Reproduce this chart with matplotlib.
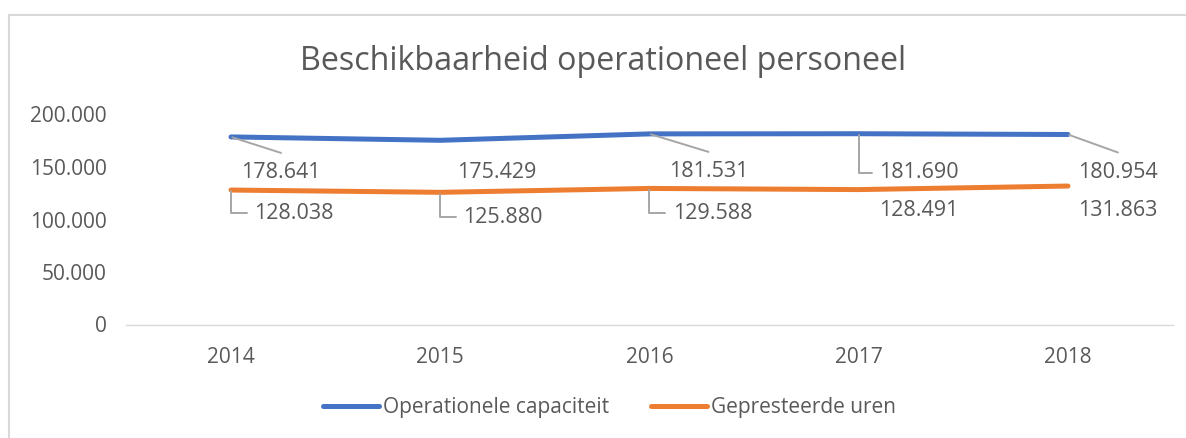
import matplotlib.pyplot as plt
from matplotlib.patches import Rectangle

plt.rcParams['font.family'] = ['Open Sans', 'DejaVu Sans']

# data
years = ['2014', '2015', '2016', '2017', '2018']
capaciteit = [178641, 175429, 181531, 181690, 180954]
gepresteerd = [128038, 125880, 129588, 128491, 131863]
y_ticks = [0, 50000, 100000, 150000, 200000]

# label placement (pixels from the point: right, down) and leader type
cap_offsets = [(50, 36), (56, 32), (59, 38), (60, 39), (50, 38)]
cap_leaders = ['straight', None, 'straight', 'elbow', 'straight']
gep_offsets = [(63, 23), (63, 25), (63, 25), (60, 21), (50, 24)]
gep_leaders = ['elbow', 'elbow', 'elbow', None, None]

BLUE = '#4472C4'
ORANGE = '#ED7D31'
TXT = '#595959'
LEADER = '#A6A6A6'


def fmt(v):
    return f"{v:,.0f}".replace(',', '.')


fig = plt.figure(figsize=(11.86, 4.38), dpi=100)
ax = fig.add_axes([126.4 / 1186, 1 - 324.5 / 438, (1172.6 - 126.4) / 1186, 210 / 438])

x = list(range(len(years)))
ax.plot(x, capaciteit, color=BLUE, lw=3.6, solid_capstyle='round',
        solid_joinstyle='round', label='Operationele capaciteit', zorder=3)
ax.plot(x, gepresteerd, color=ORANGE, lw=3.6, solid_capstyle='round',
        solid_joinstyle='round', label='Gepresteerde uren', zorder=3)


def add_labels(values, offsets, leaders):
    for i, v in enumerate(values):
        dx, dy = offsets[i]
        ax.annotate(fmt(v), xy=(i, v), xytext=(dx, -dy), textcoords='offset pixels',
                    ha='center', va='center', fontsize=15.5, color=TXT)
        if leaders[i] == 'straight':
            ax.annotate('', xy=(i, v), xytext=(dx, -dy + 20), textcoords='offset pixels',
                        arrowprops=dict(arrowstyle='-', color=LEADER, lw=1.4,
                                        shrinkA=0, shrinkB=1))
        elif leaders[i] == 'elbow':
            ax.annotate('', xy=(i, v), xytext=(dx - 47, -dy), textcoords='offset pixels',
                        arrowprops=dict(arrowstyle='-', color=LEADER, lw=1.4,
                                        connectionstyle='angle,angleA=0,angleB=90,rad=0',
                                        shrinkA=0, shrinkB=1))


add_labels(capaciteit, cap_offsets, cap_leaders)
add_labels(gepresteerd, gep_offsets, gep_leaders)

ax.set_xlim(-0.5, len(years) - 0.5)
ax.set_ylim(0, 200000)
ax.set_xticks(x)
ax.set_xticklabels(years)
ax.set_yticks(y_ticks)
ax.set_yticklabels([fmt(t) for t in y_ticks])
ax.tick_params(axis='both', length=0, labelsize=15, labelcolor=TXT)
ax.tick_params(axis='y', pad=14)
ax.tick_params(axis='x', pad=16)
for side in ['top', 'right', 'left']:
    ax.spines[side].set_visible(False)
ax.spines['bottom'].set_color('#D9D9D9')
ax.spines['bottom'].set_linewidth(1.0)

fig.text(603.5 / 1186, 1 - 70 / 438, 'Beschikbaarheid operationeel personeel',
         ha='center', va='baseline', fontsize=23.2, color=TXT)

leg = fig.legend(loc='center', bbox_to_anchor=(609.5 / 1186, 1 - 408 / 438), ncol=2,
                 frameon=False, fontsize=15, handlelength=2.7, handletextpad=0.2,
                 columnspacing=2.0, labelcolor=TXT)

fig.patches.append(Rectangle((9 / 1186, -0.1), 1.2, 1.1 - 15 / 438, transform=fig.transFigure,
                             fill=False, edgecolor='#D9D9D9', lw=1.5))

fig.savefig('out.png', dpi=100)
